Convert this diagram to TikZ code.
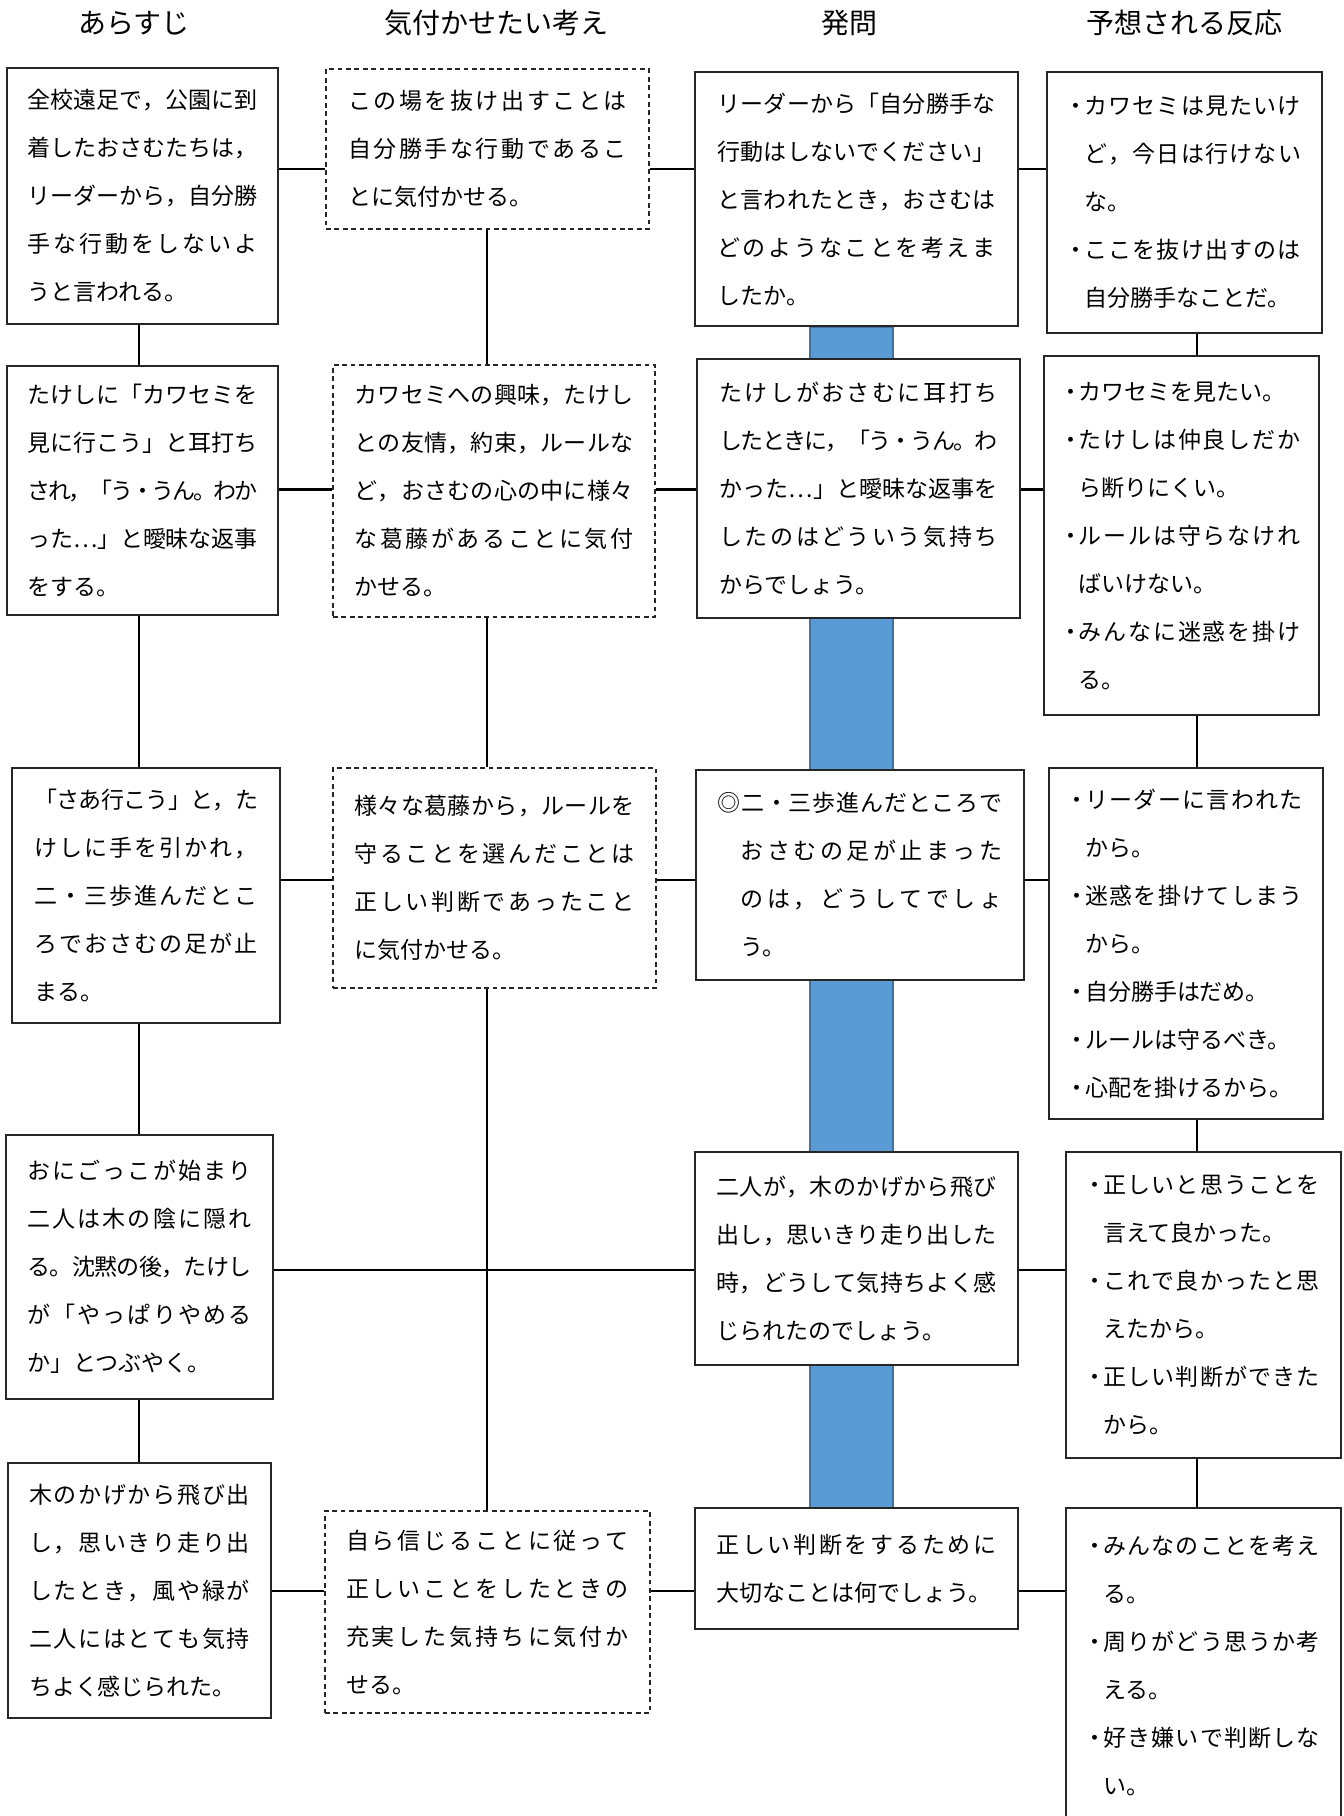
\documentclass[tikz,border=0pt]{standalone}
\usepackage{fontspec}
\setmainfont{Noto Sans CJK JP}
\usetikzlibrary{fit,backgrounds}
\definecolor{barblue}{HTML}{5B9BD5}
\definecolor{barline}{HTML}{41719C}
\XeTeXinterchartokenstate=0
\newcount\jcnt
\def\jsetrange#1#2{\jcnt=#1\relax\loop\XeTeXcharclass\jcnt=200\relax\advance\jcnt by 1\relax\ifnum\jcnt<#2\relax\repeat}
\jsetrange{"3000}{"A000}
\jsetrange{"FF00}{"FFF0}
\XeTeXcharclass"2026=200\relax
\XeTeXcharclass"25CE=200\relax
\newcommand\jglue{\hskip 0pt plus 1fil minus 1.3pt\relax}
\XeTeXinterchartoks 200 200 = {\jglue}
\newcommand\J[1]{\hbox to\hsize{\XeTeXinterchartokenstate=1 #1}}
\newcommand\Ln[1]{\hbox to\hsize{#1\hfil}}
\newcommand\tb[2]{\vbox{\hsize=#1\relax #2}}
\newcommand\bu{\makebox[0.7em]{・}}
\newcommand\ind{\hspace*{0.7em}}
\tikzset{
  box/.style={draw=black!85, line width=0.65pt, fill=white, inner sep=0pt},
  dbox/.style={box, dash pattern=on 2.4pt off 1.8pt},
  qbox/.style={box, line width=0.75pt},
  txt/.style={inner sep=0pt, anchor=center, font=\fontsize{11.5pt}{24pt}\selectfont},
  conn/.style={line width=1pt, black},
  hdr/.style={font=\fontsize{14pt}{16pt}\selectfont, inner sep=0pt},
  bluebar/.style={fill=barblue, draw=barline, line width=0.7pt}
}
\begin{document}
\begin{tikzpicture}[x=0.5pt,y=-0.5pt]
\useasboundingbox (0,0) rectangle (1344,1816);
\clip (0,0) rectangle (1344,1816);

% headers
\node[hdr] (h1) at (134,23) {あらすじ};
\node[hdr] (h2) at (496,23) {気付かせたい考え};
\node[hdr] (h3) at (849,23) {発問};
\node[hdr] (h4) at (1184,23) {予想される反応};

% ---------- boxes ----------
\node[box, fit={(7,68)(278,324)}] (A1) {};
\node[box, fit={(7,366)(278,615)}] (A2) {};
\node[box, fit={(12,768)(280,1023)}] (A3) {};
\node[box, fit={(6,1135)(273,1399)}] (A4) {};
\node[box, fit={(8,1463)(271,1718)}] (A5) {};
\node[dbox, fit={(326,69)(649,229)}] (B1) {};
\node[dbox, fit={(333,365)(655,617)}] (B2) {};
\node[dbox, fit={(333,768)(656,988)}] (B3) {};
\node[dbox, fit={(325,1511)(650,1713)}] (B5) {};
\node[box, line width=1pt, fit={(695,72)(1018,326)}] (C1) {};
\node[qbox, fit={(697,359)(1020,618)}] (C2) {};
\node[box, line width=1.4pt, fit={(696,770)(1024,980)}] (C3) {};
\node[qbox, fit={(695,1152)(1018,1365)}] (C4) {};
\node[qbox, fit={(695,1508)(1018,1629)}] (C5) {};
\node[box, fit={(1047,72)(1322,333)}] (D1) {};
\node[box, fit={(1044,356)(1319,715)}] (D2) {};
\node[box, fit={(1049,768)(1323,1119)}] (D3) {};
\node[box, fit={(1066,1152)(1341,1458)}] (D4) {};
\node[box, fit={(1066,1508)(1341,1824)}] (D5) {};

% ---------- texts ----------
\node[txt] (A1t) at (A1.center) {\tb{115pt}{%
\J{全校遠足で，公園に到}
\J{着したおさむたちは，}
\J{リーダーから，自分勝}
\J{手な行動をしないよ}
\Ln{うと言われる。}}};
\node[txt] (A2t) at (A2.center) {\tb{115pt}{%
\J{たけしに「カワセミを}
\J{見に行こう」と耳打ち}
\J{され，「う・うん。わか}
\J{った…」と曖昧な返事}
\Ln{をする。}}};
\node[txt] (A3t) at (A3.center) {\tb{112pt}{%
\J{「さあ行こう」と，た}
\J{けしに手を引かれ，}
\J{二・三歩進んだとこ}
\J{ろでおさむの足が止}
\Ln{まる。}}};
\node[txt] (A4t) at (A4.center) {\tb{112pt}{%
\J{おにごっこが始まり}
\J{二人は木の陰に隠れ}
\J{る。沈黙の後，たけし}
\J{が「やっぱりやめる}
\Ln{か」とつぶやく。}}};
\node[txt] (A5t) at (A5.center) {\tb{110.5pt}{%
\J{木のかげから飛び出}
\J{し，思いきり走り出}
\J{したとき，風や緑が}
\J{二人にはとても気持}
\Ln{ちよく感じられた。}}};

\node[txt] (B1t) at (B1.center) {\tb{139.5pt}{%
\J{この場を抜け出すことは}
\J{自分勝手な行動であるこ}
\Ln{とに気付かせる。}}};
\node[txt] (B2t) at (B2.center) {\tb{139.5pt}{%
\J{カワセミへの興味，たけし}
\J{との友情，約束，ルールな}
\J{ど，おさむの心の中に様々}
\J{な葛藤があることに気付}
\Ln{かせる。}}};
\node[txt] (B3t) at (B3.center) {\tb{140pt}{%
\J{様々な葛藤から，ルールを}
\J{守ることを選んだことは}
\J{正しい判断であったこと}
\Ln{に気付かせる。}}};
\node[txt] (B5t) at (B5.center) {\tb{141.5pt}{%
\J{自ら信じることに従って}
\J{正しいことをしたときの}
\J{充実した気持ちに気付か}
\Ln{せる。}}};

\node[txt] (C1t) at (C1.center) {\tb{139pt}{%
\J{リーダーから「自分勝手な}
\J{行動はしないでください」}
\J{と言われたとき，おさむは}
\J{どのようなことを考えま}
\Ln{したか。}}};
\node[txt] (C2t) at (C2.center) {\tb{139pt}{%
\J{たけしがおさむに耳打ち}
\J{したときに，「う・うん。わ}
\J{かった…」と曖昧な返事を}
\J{したのはどういう気持ち}
\Ln{からでしょう。}}};
\node[txt] (C3t) at (C3.center) {\tb{142.5pt}{%
\J{◎二・三歩進んだところで}
\J{\hspace*{1em}おさむの足が止まった}
\J{\hspace*{1em}のは，どうしてでしょ}
\Ln{\hspace*{1em}う。}}};
\node[txt] (C4t) at (C4.center) {\tb{140pt}{%
\J{二人が，木のかげから飛び}
\J{出し，思いきり走り出した}
\J{時，どうして気持ちよく感}
\Ln{じられたのでしょう。}}};
\node[txt] (C5t) at (C5.center) {\tb{140pt}{%
\J{正しい判断をするために}
\Ln{大切なことは何でしょう。}}};

\node[txt] (D1t) at (D1.center) {\tb{116.5pt}{%
\J{\bu カワセミは見たいけ}
\J{\ind ど，今日は行けない}
\Ln{\ind な。}
\J{\bu ここを抜け出すのは}
\Ln{\ind 自分勝手なことだ。}}};
\node[txt] (D2t) at (D2.center) {\tb{119pt}{%
\Ln{\bu カワセミを見たい。}
\J{\bu たけしは仲良しだか}
\Ln{\ind ら断りにくい。}
\J{\bu ルールは守らなけれ}
\Ln{\ind ばいけない。}
\J{\bu みんなに迷惑を掛け}
\Ln{\ind る。}}};
\node[txt] (D3t) at (D3.center) {\tb{117pt}{%
\J{\bu リーダーに言われた}
\Ln{\ind から。}
\J{\bu 迷惑を掛けてしまう}
\Ln{\ind から。}
\Ln{\bu 自分勝手はだめ。}
\Ln{\bu ルールは守るべき。}
\Ln{\bu 心配を掛けるから。}}};
\node[txt] (D4t) at (D4.center) {\tb{116.5pt}{%
\J{\bu 正しいと思うことを}
\Ln{\ind 言えて良かった。}
\J{\bu これで良かったと思}
\Ln{\ind えたから。}
\J{\bu 正しい判断ができた}
\Ln{\ind から。}}};
\node[txt] (D5t) at (D5.center) {\tb{116.5pt}{%
\J{\bu みんなのことを考え}
\Ln{\ind る。}
\J{\bu 周りがどう思うか考}
\Ln{\ind える。}
\J{\bu 好き嫌いで判断しな}
\Ln{\ind い。}}};

% blue bar behind column 3
\begin{scope}[on background layer]
\draw[bluebar] ([xshift=-23.25pt]C1.south) rectangle ([xshift=18.25pt]C5.north);
\end{scope}

% guide coordinates
\coordinate (r1) at (0,169);
\coordinate (r2) at (0,489);
\coordinate (r3) at (0,880);
\coordinate (r4) at (0,1270);
\coordinate (r5) at (0,1591);
\coordinate (k1) at (139,0);
\coordinate (k2) at (487,0);
\coordinate (k4) at (1197,0);

% horizontal connectors
\draw[conn] (A1.east |- r1) -- (B1.west |- r1);
\draw[conn] (B1.east |- r1) -- (C1.west |- r1);
\draw[conn] (C1.east |- r1) -- (D1.west |- r1);
\draw[conn, line width=1.5pt] (A2.east |- r2) -- (B2.west |- r2);
\draw[conn, line width=1.5pt] (B2.east |- r2) -- (C2.west |- r2);
\draw[conn, line width=1.5pt] (C2.east |- r2) -- (D2.west |- r2);
\draw[conn] (A3.east |- r3) -- (B3.west |- r3);
\draw[conn] (B3.east |- r3) -- (C3.west |- r3);
\draw[conn] (C3.east |- r3) -- (D3.west |- r3);
\draw[conn] (A4.east |- r4) -- (C4.west |- r4);
\draw[conn] (C4.east |- r4) -- (D4.west |- r4);
\draw[conn] (A5.east |- r5) -- (B5.west |- r5);
\draw[conn] (B5.east |- r5) -- (C5.west |- r5);
\draw[conn] (C5.east |- r5) -- (D5.west |- r5);

% vertical connectors
\draw[conn] (A1.south -| k1) -- (A2.north -| k1);
\draw[conn] (A2.south -| k1) -- (A3.north -| k1);
\draw[conn] (A3.south -| k1) -- (A4.north -| k1);
\draw[conn] (A4.south -| k1) -- (A5.north -| k1);
\draw[conn] (B1.south -| k2) -- (B2.north -| k2);
\draw[conn] (B2.south -| k2) -- (B3.north -| k2);
\draw[conn] (B3.south -| k2) -- (B5.north -| k2);
\draw[conn] (D1.south -| k4) -- (D2.north -| k4);
\draw[conn] (D2.south -| k4) -- (D3.north -| k4);
\draw[conn] (D3.south -| k4) -- (D4.north -| k4);
\draw[conn] (D4.south -| k4) -- (D5.north -| k4);
\end{tikzpicture}
\end{document}
